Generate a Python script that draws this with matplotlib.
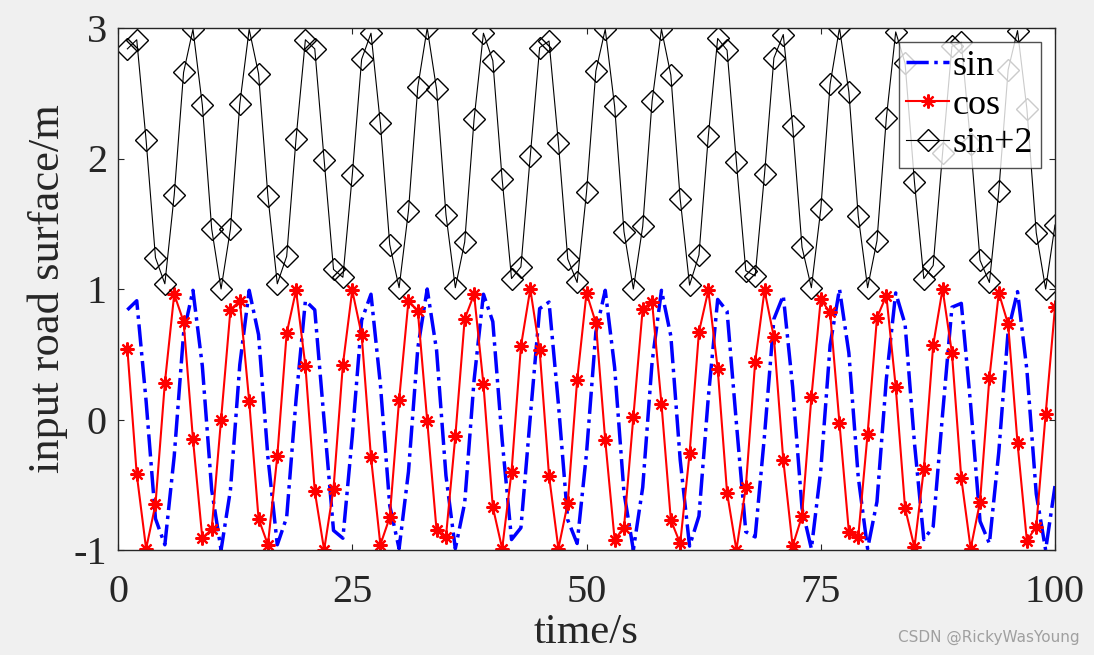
import matplotlib
matplotlib.use("Agg")
import matplotlib.pyplot as plt

plt.rcParams['font.family'] = ['Liberation Serif', 'DejaVu Serif']
plt.rcParams['axes.unicode_minus'] = False

t = list(range(1, 101))

sin_vals = [0.84, 0.91, 0.14, -0.76, -0.96, -0.28, 0.66, 0.99, 0.41, -0.54,
            -1.00, -0.54, 0.42, 0.99, 0.65, -0.29, -0.96, -0.75, 0.15, 0.91,
            0.84, -0.01, -0.85, -0.91, -0.13, 0.76, 0.96, 0.27, -0.66, -0.99,
            -0.40, 0.55, 1.00, 0.53, -0.43, -0.99, -0.64, 0.30, 0.96, 0.75,
            -0.16, -0.92, -0.83, 0.02, 0.85, 0.90, 0.12, -0.77, -0.95, -0.26,
            0.67, 0.99, 0.40, -0.56, -1.00, -0.52, 0.44, 0.99, 0.64, -0.31,
            -0.97, -0.74, 0.17, 0.92, 0.83, -0.03, -0.86, -0.90, -0.12, 0.77,
            0.95, 0.25, -0.68, -0.99, -0.39, 0.57, 1.00, 0.51, -0.44, -0.99,
            -0.63, 0.31, 0.97, 0.73, -0.18, -0.92, -0.82, 0.04, 0.86, 0.89,
            0.11, -0.78, -0.95, -0.25, 0.68, 0.98, 0.38, -0.57, -1.00, -0.51]

cos_vals = [0.54, -0.42, -0.99, -0.65, 0.28, 0.96, 0.75, -0.15, -0.91, -0.84,
            0.00, 0.84, 0.91, 0.14, -0.76, -0.96, -0.28, 0.66, 0.99, 0.41,
            -0.55, -1.00, -0.53, 0.42, 0.99, 0.65, -0.29, -0.96, -0.75, 0.15,
            0.91, 0.83, -0.01, -0.85, -0.90, -0.13, 0.77, 0.96, 0.27, -0.67,
            -0.99, -0.40, 0.56, 1.00, 0.53, -0.43, -0.99, -0.64, 0.30, 0.97,
            0.74, -0.16, -0.92, -0.83, 0.02, 0.85, 0.90, 0.12, -0.77, -0.95,
            -0.26, 0.67, 0.99, 0.39, -0.56, -1.00, -0.52, 0.44, 0.99, 0.63,
            -0.31, -0.97, -0.74, 0.17, 0.92, 0.82, -0.03, -0.86, -0.90, -0.11,
            0.78, 0.95, 0.25, -0.68, -0.98, -0.38, 0.57, 1.00, 0.51, -0.45,
            -0.99, -0.63, 0.32, 0.97, 0.73, -0.18, -0.93, -0.82, 0.04, 0.86]

shifted_vals = [2.84, 2.91, 2.14, 1.24, 1.04, 1.72, 2.66, 2.99, 2.41, 1.46,
                1.00, 1.46, 2.42, 2.99, 2.65, 1.71, 1.04, 1.25, 2.15, 2.91,
                2.84, 1.99, 1.15, 1.09, 1.87, 2.76, 2.96, 2.27, 1.34, 1.01,
                1.60, 2.55, 3.00, 2.53, 1.57, 1.01, 1.36, 2.30, 2.96, 2.75,
                1.84, 1.08, 1.17, 2.02, 2.85, 2.90, 2.12, 1.23, 1.05, 1.74,
                2.67, 2.99, 2.40, 1.44, 1.00, 1.48, 2.44, 2.99, 2.64, 1.69,
                1.03, 1.26, 2.17, 2.92, 2.83, 1.97, 1.14, 1.10, 1.88, 2.77,
                2.95, 2.25, 1.32, 1.01, 1.61, 2.57, 3.00, 2.51, 1.56, 1.01,
                1.37, 2.31, 2.97, 2.73, 1.82, 1.08, 1.18, 2.04, 2.86, 2.89,
                2.11, 1.22, 1.05, 1.75, 2.68, 2.98, 2.38, 1.43, 1.00, 1.49]

fig = plt.figure(figsize=(10.94, 6.55), dpi=100, facecolor='#f0f0f0')
ax = fig.add_axes([118/1094, 1 - 550/655, (1055 - 118)/1094, (550 - 28)/655])
ax.set_facecolor('white')

ax.plot(t, sin_vals, color='blue', linestyle='-.', linewidth=2.5, label='sin')
ax.plot(t, cos_vals, color='red', linestyle='-', linewidth=1.5, marker=(8, 2, 0),
        markersize=10, markeredgewidth=1.6, label='cos')
ax.plot(t, shifted_vals, color='black', linestyle='-', linewidth=0.8, marker='D',
        markersize=11, markerfacecolor='none', markeredgewidth=1.0, label='sin+2')

ax.set_xlim(0, 100)
ax.set_ylim(-1, 3)
ax.set_xticks([0, 25, 50, 75, 100])
ax.set_yticks([-1, 0, 1, 2, 3])
ax.tick_params(direction='in', length=4, labelsize=29, colors='#262626',
               top=True, right=True)
ax.tick_params(axis='x', pad=17)
ax.tick_params(axis='y', pad=8)
for s in ax.spines.values():
    s.set_color('#262626')
    s.set_linewidth(1.0)

ax.set_xlabel('time/s', fontsize=31, color='#262626', labelpad=2)
ax.set_ylabel('input road surface/m', fontsize=32, color='#262626', labelpad=4)

leg = ax.legend(loc='upper right', fontsize=26, frameon=True, fancybox=False,
                borderpad=0.2, labelspacing=0.15, handlelength=1.2,
                handletextpad=0.1, borderaxespad=0.4)
leg.get_frame().set_edgecolor('#262626')
leg.get_frame().set_linewidth(1.0)

fig.text(0.987, 0.015, 'CSDN @RickyWasYoung', ha='right', va='bottom',
         fontsize=11, color='#a0a0a0', family=['DejaVu Sans'])

fig.savefig('out.png', dpi=100, facecolor=fig.get_facecolor())
